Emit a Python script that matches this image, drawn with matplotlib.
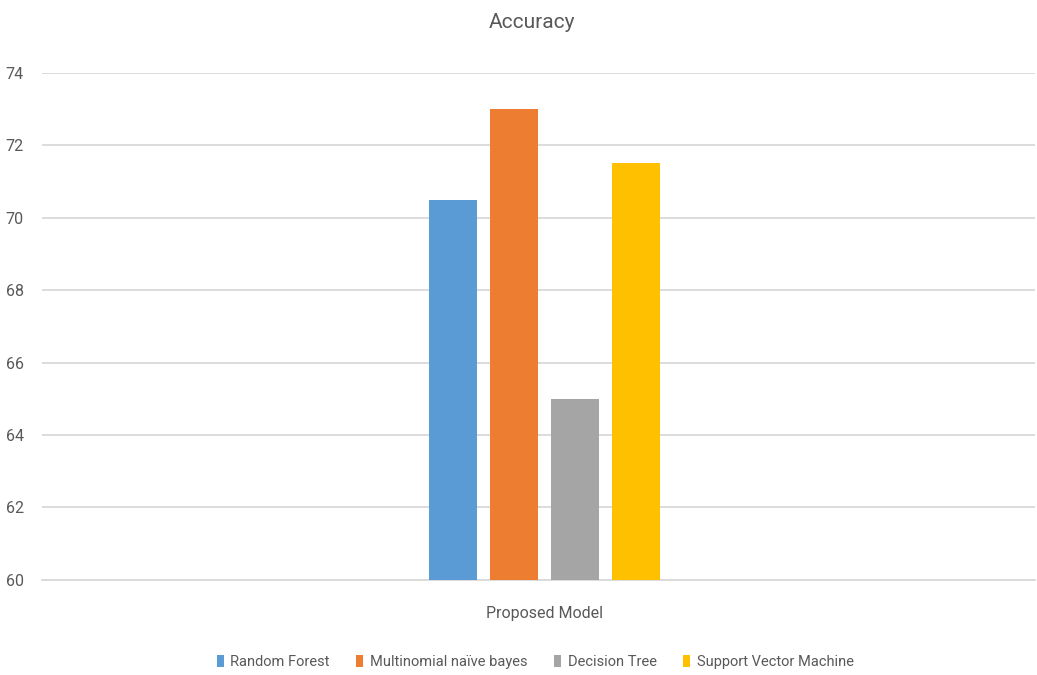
import matplotlib

matplotlib.use("Agg")
import matplotlib.pyplot as plt
import numpy as np

CATEGORY = "Proposed Model"
MODELS = [
    "Random Forest",
    "Multinomial naïve bayes",
    "Decision Tree",
    "Support Vector Machine",
]
ACCURACY = [70.5, 73.0, 65.0, 71.5]
COLORS = ["#5b9bd5", "#ed7d31", "#a5a5a5", "#ffc000"]
Y_TICKS = [60, 62, 64, 66, 68, 70, 72, 74]

TEXT_COLOR = "#595959"

plt.rcParams["font.family"] = ["Roboto", "DejaVu Sans"]

fig = plt.figure(figsize=(10.37, 6.75), dpi=100)
ax = fig.add_axes([0.0405, 0.141, 0.958, 0.751])

group_center = 0.5055
bar_width = 0.0483
step = 0.0614
offsets = (np.arange(len(MODELS)) - (len(MODELS) - 1) / 2) * step
for name, value, color, off in zip(MODELS, ACCURACY, COLORS, offsets):
    ax.bar(group_center + off, value - 60, bottom=60, width=bar_width,
           color=color, label=name, zorder=3)

ax.set_xlim(0, 1)
ax.set_ylim(60, 74)
ax.set_yticks(Y_TICKS)
ax.set_yticklabels([str(t) for t in Y_TICKS], color=TEXT_COLOR, fontsize=11.5)
ax.set_xticks([group_center])
ax.set_xticklabels([CATEGORY], color=TEXT_COLOR, fontsize=11.5)
ax.tick_params(axis="x", length=0, pad=19)
ax.tick_params(axis="y", length=0, pad=13)
ax.grid(axis="y", color="#d9d9d9", linewidth=1.3, zorder=0)
for side in ["top", "right", "left"]:
    ax.spines[side].set_visible(False)
ax.spines["bottom"].set_color("#d9d9d9")
ax.spines["bottom"].set_linewidth(1.3)

fig.text(0.513, 0.967, "Accuracy", ha="center", va="center",
         color=TEXT_COLOR, fontsize=15)

fig.legend(loc="center", bbox_to_anchor=(0.516, 0.019), ncol=4,
           frameon=False, fontsize=10.5, handlelength=0.5, handleheight=0.9,
           handletextpad=0.45, columnspacing=1.8, labelcolor=TEXT_COLOR)

fig.savefig("out.png", dpi=100)
